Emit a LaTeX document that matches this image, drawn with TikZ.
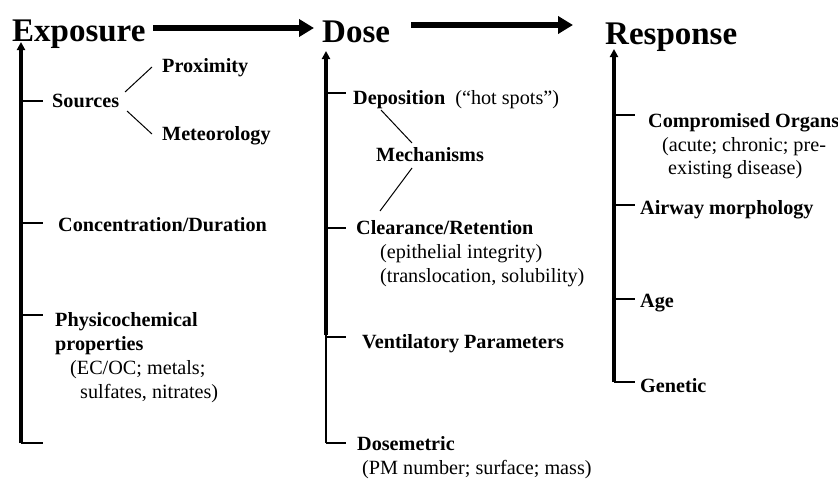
\documentclass[tikz,border=0pt]{standalone}
\usepackage{fontspec}
\setmainfont{Liberation Serif}
\usetikzlibrary{arrows.meta}

\begin{document}
\begin{tikzpicture}[x=1pt,y=-1pt,
  title/.style={anchor=base west,inner sep=0pt,font=\fontsize{33}{38}\selectfont\bfseries},
  item/.style={anchor=base west,inner sep=0pt,font=\fontsize{20.2}{24}\selectfont\bfseries},
  note/.style={anchor=base west,inner sep=0pt,font=\fontsize{20.2}{24}\selectfont},
  spine/.style={line width=3.4pt,-{Triangle[length=8pt,width=8pt]}},
  flow/.style={line width=5.5pt,-{Triangle[length=15pt,width=17pt]}},
  tick/.style={line width=1.3pt},
  branch/.style={line width=1pt}]
\useasboundingbox (0,0) rectangle (838,479);

% column headings and the flow between them
\node[title] (exp) at (12,41) {Exposure};
\node[title] (dose) at (322,42) {Dose};
\node[title] (resp) at (605,44) {Response};
\coordinate (f1a) at (153,28);  \coordinate (f1b) at (314,28);
\coordinate (f2a) at (411,25);  \coordinate (f2b) at (573,25);
\draw[flow] (f1a) -- (f1b);
\draw[flow] (f2a) -- (f2b);

% ---------- Exposure column ----------
\coordinate (eBot) at (21,443);
\coordinate (eTop) at (21,42);
\draw[spine] (eBot) -- (eTop);
\foreach \n/\y in {e1/101, e2/223, e3/315, e4/443}{
  \coordinate (\n a) at (21,\y);
  \coordinate (\n b) at (43,\y);
  \draw[tick] (\n a) -- (\n b);
}
\node[item] (prox) at (162,72) {Proximity};
\node[item] (src) at (52,107) {Sources};
\node[item] (met) at (162,140) {Meteorology};
\coordinate (s1a) at (125,92);  \coordinate (s1b) at (152,67);
\coordinate (s2a) at (127,111); \coordinate (s2b) at (152,134);
\draw[branch] (s1a) -- (s1b);
\draw[branch] (s2a) -- (s2b);
\node[item] (conc) at (58,231) {Concentration/Duration};
\node[item] (phys1) at (55,326) {Physicochemical};
\node[item] (phys2) at (55,350) {properties};
\node[note] (phys3) at (70,374) {(EC/OC; metals;};
\node[note] (phys4) at (80,398) {sulfates, nitrates)};

% ---------- Dose column ----------
\coordinate (dBot) at (326,443);
\coordinate (dMid) at (326,335);
\coordinate (dTop) at (326,51);
\draw[line width=1.8pt] (dBot) -- (dMid);
\draw[spine] (dMid) -- (dTop);
\foreach \n/\y in {d1/93, d2/228, d3/337, d4/443}{
  \coordinate (\n a) at (326,\y);
  \coordinate (\n b) at (346,\y);
  \draw[tick] (\n a) -- (\n b);
}
\node[item] (depo) at (353,104) {Deposition\ \ \textmd{(``hot spots'')}};
\node[item] (mech) at (376,161) {Mechanisms};
\coordinate (m1a) at (381,110); \coordinate (m1b) at (412,143);
\coordinate (m2a) at (412,168); \coordinate (m2b) at (380,211);
\draw[branch] (m1a) -- (m1b);
\draw[branch] (m2a) -- (m2b);
\node[item] (clr) at (356,234) {Clearance/Retention};
\node[note] (clr2) at (380,258) {(epithelial integrity)};
\node[note] (clr3) at (380,282) {(translocation, solubility)};
\node[item] (vent) at (362,348) {Ventilatory Parameters};
\node[item] (dmet) at (357,450) {Dosemetric};
\node[note] (dmet2) at (362,474) {(PM number; surface; mass)};

% ---------- Response column ----------
\coordinate (rBot) at (614,382);
\coordinate (rTop) at (614,49);
\draw[spine] (rBot) -- (rTop);
\foreach \n/\y in {r1/115, r2/205, r3/299, r4/382}{
  \coordinate (\n a) at (614,\y);
  \coordinate (\n b) at (635,\y);
  \draw[tick] (\n a) -- (\n b);
}
\node[item] (org) at (648,127) {Compromised Organs};
\node[note] (org2) at (662,151) {(acute; chronic; pre-};
\node[note] (org3) at (668,174) {existing disease)};
\node[item] (air) at (640,214) {Airway morphology};
\node[item] (age) at (640,307) {Age};
\node[item] (gen) at (640,392) {Genetic};
\end{tikzpicture}
\end{document}
